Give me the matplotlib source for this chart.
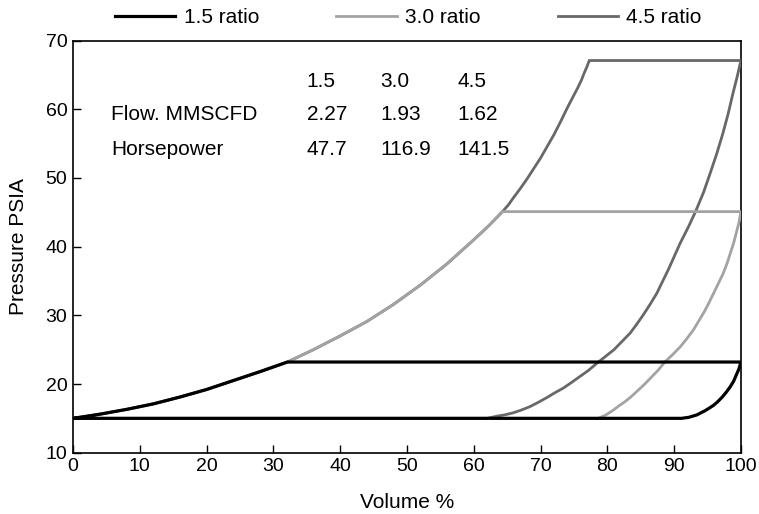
import matplotlib
matplotlib.use("Agg")
import matplotlib.pyplot as plt
from matplotlib import font_manager

# ---- data -------------------------------------------------------------
suction_pressure = 15.0

# shared compression curve (volume %, pressure psia)
comp_volume = [0, 4, 8, 12, 16, 20, 24, 28, 32.1, 36, 40, 44, 48, 52, 56, 60,
               62.2, 64.3, 65.2, 66, 67, 68, 69, 70, 71, 72, 73, 74, 74.8,
               75.5, 76.1, 76.5, 76.9, 77.3]
comp_pressure = [15.0, 15.6, 16.3, 17.1, 18.1, 19.2, 20.5, 21.8, 23.2, 25.0,
                 27.0, 29.1, 31.6, 34.4, 37.5, 41.0, 43.0, 45.1, 46.1, 47.2,
                 48.5, 49.9, 51.4, 52.9, 54.6, 56.3, 58.2, 60.2, 61.7, 63.0,
                 64.2, 65.2, 66.1, 67.1]

ratios = ["1.5", "3.0", "4.5"]
discharge_pressure = [23.2, 45.1, 67.1]

# re-expansion curves, from 100 % volume down to suction
exp_volume_15 = [100, 99.7, 99.3, 98.9, 98.4, 97.8, 97.2, 96.5, 95.9, 95.2,
                 94.6, 93.4, 92.2, 91.1]
exp_pressure_15 = [23.2, 22.2, 21.3, 20.4, 19.6, 18.8, 18.1, 17.4, 16.9, 16.45,
                   16.1, 15.5, 15.15, 15.0]

exp_volume_30 = [100, 99.7, 99.3, 98.9, 98.4, 97.9, 97.3, 96.6, 95.9, 95.2,
                 94.5, 93.7, 92.9, 91.9, 90.9, 89.8, 88.6, 87.6, 86.5, 85.5,
                 84.4, 83.5, 82.6, 81.7, 80.9, 80.2, 79.6, 78.6]
exp_pressure_30 = [45.1, 43.5, 42.0, 40.5, 39.0, 37.5, 36.0, 34.6, 33.2, 31.8,
                   30.5, 29.2, 27.9, 26.6, 25.4, 24.3, 23.2, 22.0, 20.9, 19.9,
                   18.9, 18.1, 17.4, 16.8, 16.2, 15.75, 15.4, 15.0]

exp_volume_45 = [100, 99.4, 98.8, 98.1, 97.3, 96.4, 95.4, 94.4, 93.2, 92.1,
                 90.9, 89.2, 87.4, 86.4, 85.4, 84.4, 83.4, 82.2, 81.0, 79.7,
                 78.4, 77.2, 75.9, 74.6, 73.4, 72.1, 70.9, 69.6, 68.4, 67.1,
                 65.9, 64.6, 63.4, 62.0]
exp_pressure_45 = [67.1, 64.6, 62.3, 59.4, 56.5, 53.6, 50.7, 47.9, 45.1, 42.8,
                   40.5, 36.8, 33.2, 31.6, 30.1, 28.7, 27.4, 26.2, 25.0, 24.0,
                   23.0, 22.0, 21.1, 20.2, 19.4, 18.7, 18.0, 17.3, 16.7, 16.2,
                   15.8, 15.5, 15.3, 15.0]

exp_volume = [exp_volume_15, exp_volume_30, exp_volume_45]
exp_pressure = [exp_pressure_15, exp_pressure_30, exp_pressure_45]

# performance table
table_rows = ["Flow. MMSCFD", "Horsepower"]
flow_mmscfd = ["2.27", "1.93", "1.62"]
horsepower = ["47.7", "116.9", "141.5"]

x_ticks = [0, 10, 20, 30, 40, 50, 60, 70, 80, 90, 100]
y_ticks = [10, 20, 30, 40, 50, 60, 70]

# ---- style ------------------------------------------------------------
names = {f.name for f in font_manager.fontManager.ttflist}
base_font = "Liberation Sans" if "Liberation Sans" in names else "DejaVu Sans"
plt.rcParams["font.family"] = [base_font, "DejaVu Sans"]

colors = ["#000000", "#a3a3a3", "#686868"]
widths = [2.3, 2.0, 2.0]

fig = plt.figure(figsize=(7.59, 5.14), dpi=100)
ax = fig.add_axes([0.0962, 0.1193, 0.8800, 0.8017])

# draw highest ratio first so lower-ratio cycles sit on top
for i in [2, 1, 0]:
    pd_ = discharge_pressure[i]
    cv = [v for v, p in zip(comp_volume, comp_pressure) if p <= pd_ + 1e-9]
    cp = [p for p in comp_pressure if p <= pd_ + 1e-9]
    xs = cv + [100] + exp_volume[i][1:] + [0]
    ys = cp + [pd_] + exp_pressure[i][1:] + [suction_pressure]
    ax.plot(xs, ys, color=colors[i], lw=widths[i], solid_joinstyle="miter",
            label=f"{ratios[i]} ratio", zorder=3 + (2 - i))

ax.set_xlim(0, 100)
ax.set_ylim(10, 70)
ax.set_xticks(x_ticks)
ax.set_yticks(y_ticks)
ax.tick_params(direction="in", length=6, width=1, labelsize=14, pad=4)
for s in ax.spines.values():
    s.set_linewidth(1.2)

ax.set_xlabel("Volume %", fontsize=15, labelpad=13)
ax.set_ylabel("Pressure PSIA", fontsize=15, labelpad=13)

# performance table inside the plot
col_x = [35.0, 46.0, 57.6]
row_y = [64.1, 59.2, 54.2]
tkw = dict(fontsize=15, va="center", ha="left", zorder=6)
for j, r in enumerate(ratios):
    ax.text(col_x[j], row_y[0], r, **tkw)
ax.text(5.7, row_y[1], table_rows[0], **tkw)
ax.text(5.7, row_y[2], table_rows[1], **tkw)
for j in range(3):
    ax.text(col_x[j], row_y[1], flow_mmscfd[j], **tkw)
    ax.text(col_x[j], row_y[2], horsepower[j], **tkw)

handles, labels = ax.get_legend_handles_labels()
order = [labels.index(f"{r} ratio") for r in ratios]
fig.legend([handles[k] for k in order], [labels[k] for k in order],
           loc="center", bbox_to_anchor=(0.538, 0.966), ncol=3, frameon=False,
           handlelength=2.9, handletextpad=0.4, columnspacing=3.7,
           prop={"size": 15})

fig.savefig("out.png", dpi=100)
